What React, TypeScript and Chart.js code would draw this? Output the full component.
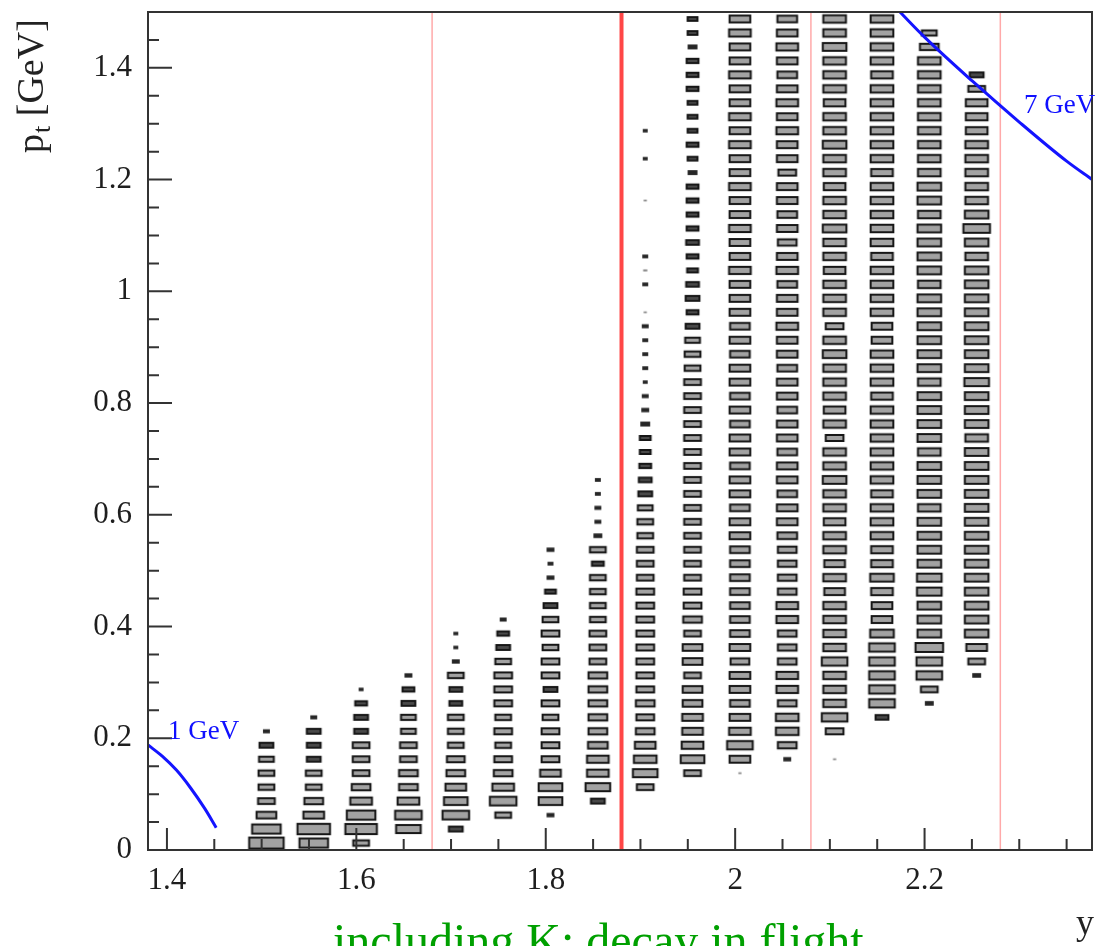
import React, { useEffect, useRef } from 'react';
import { Chart, registerables } from 'chart.js';

Chart.register(...registerables);

// ---- binning ----
const X_BIN = 0.05;
const Y_BIN = 0.025;
const Z_MAX = 48;

// x bin centres (rapidity y)
const xBinCenters = [1.505, 1.555, 1.605, 1.655, 1.705, 1.755, 1.805, 1.855, 1.905, 1.955, 2.005, 2.055, 2.105, 2.155, 2.205, 2.255];
// index of the first filled pt bin in each column
const firstYBin = [0, 0, 0, 1, 1, 2, 2, 3, 4, 5, 5, 6, 6, 9, 10, 12];

// bin contents per column, from the first filled pt bin upward
const c150 = [36, 30, 21, 18, 17, 17, 16, 15, 7];
const c155 = [30, 34, 22, 20, 17, 17, 15, 15, 15, 7];
const c160 = [17, 33, 30, 23, 20, 18, 18, 18, 15, 15, 13, 5];
const c165 = [26, 28, 23, 20, 20, 18, 18, 16, 16, 15, 13, 8];
const c170 = [15, 28, 25, 22, 20, 19, 17, 17, 17, 14, 14, 17, 8, 5, 5];
const c175 = [17, 28, 23, 20, 19, 17, 19, 17, 19, 19, 19, 17, 15, 13, 7];
const c180 = [8, 25, 25, 22, 19, 19, 19, 17, 19, 15, 19, 19, 17, 19, 17, 15, 12, 8, 6, 8];
const c185 = [15, 26, 23, 23, 21, 20, 20, 20, 20, 20, 18, 18, 18, 17, 17, 17, 17, 13, 17, 9, 7, 7, 6, 6];
const c190 = [18, 26, 24, 22, 20, 19, 20, 19, 19, 19, 19, 19, 19, 19, 19, 18, 18, 18, 17, 17, 16, 15, 14, 13, 12, 12, 10, 8, 7, 5, 6, 6, 6, 7, 2, 0, 6, 3, 6, 0, 0, 0, 2, 0, 0, 5, 0, 5];
const c195 = [18, 25, 23, 22, 22, 21, 21, 18, 21, 21, 18, 20, 19, 19, 18, 18, 18, 18, 18, 18, 18, 18, 18, 18, 18, 18, 18, 18, 18, 17, 17, 16, 15, 13, 15, 14, 12, 13, 14, 13, 13, 13, 13, 10, 11, 13, 11, 11, 11, 13, 13, 13, 10, 11, 11];
const c200 = [2, 22, 27, 23, 22, 21, 22, 22, 20, 22, 21, 21, 21, 21, 21, 21, 21, 22, 22, 21, 22, 22, 21, 22, 22, 21, 22, 21, 22, 22, 21, 22, 21, 22, 22, 22, 23, 22, 22, 23, 22, 22, 23, 22, 22, 23, 22, 23, 22, 22, 23, 22, 22, 23, 22];
const c205 = [8, 20, 24, 24, 20, 23, 23, 20, 20, 20, 23, 23, 20, 20, 20, 20, 21, 22, 22, 21, 22, 22, 21, 22, 22, 21, 22, 22, 21, 22, 22, 23, 22, 22, 21, 23, 22, 20, 22, 21, 22, 22, 19, 22, 22, 23, 22, 23, 22, 21, 22, 23, 22, 21];
const c210 = [2, 0, 19, 27, 24, 24, 24, 27, 24, 24, 24, 24, 22, 24, 22, 24, 24, 23, 24, 24, 25, 24, 24, 19, 24, 23, 24, 24, 24, 25, 24, 19, 24, 24, 24, 23, 24, 24, 25, 24, 24, 23, 24, 24, 25, 24, 24, 23, 24, 24, 24, 25, 24, 24];
const c215 = [14, 27, 27, 27, 27, 27, 25, 22, 22, 23, 25, 23, 23, 24, 24, 24, 23, 24, 24, 24, 24, 24, 24, 23, 24, 24, 24, 22, 22, 24, 24, 24, 24, 23, 24, 24, 24, 24, 24, 23, 24, 24, 24, 24, 24, 24, 23, 24, 24, 24, 24];
const c220 = [9, 18, 27, 27, 29, 25, 25, 25, 26, 26, 25, 25, 25, 25, 24, 25, 25, 25, 24, 25, 25, 25, 25, 24, 25, 25, 25, 25, 25, 25, 24, 25, 25, 25, 25, 24, 25, 25, 24, 24, 24, 24, 24, 24, 24, 24, 24, 20, 16];
const c225 = [9, 18, 22, 25, 25, 25, 25, 25, 25, 25, 25, 25, 25, 25, 25, 25, 25, 24, 25, 25, 25, 26, 25, 25, 25, 25, 25, 25, 25, 25, 24, 25, 28, 25, 24, 24, 24, 24, 24, 23, 23, 23, 18, 15];

const columnCounts = [c150, c155, c160, c165, c170, c175, c180, c185, c190, c195, c200, c205, c210, c215, c220, c225];

// axis ticks
const xTickValues = [1.4, 1.6, 1.8, 2.0, 2.2];
const xTickLabels = ['1.4', '1.6', '1.8', '2', '2.2'];
const yTickValues = [0, 0.2, 0.4, 0.6, 0.8, 1.0, 1.2, 1.4];
const yTickLabels = ['0', '0.2', '0.4', '0.6', '0.8', '1', '1.2', '1.4'];

// vertical cut lines (rapidity)
const cutLines = [1.68, 1.88, 2.08, 2.28];

// constant-momentum curves
const curve1GeVY = [1.38, 1.395, 1.41, 1.425, 1.44, 1.452];
const curve1GeVPt = [0.188, 0.168, 0.143, 0.111, 0.074, 0.04];
const curve7GeVY = [2.174, 2.2, 2.25, 2.3, 2.35, 2.377];
const curve7GeVPt = [1.5, 1.455, 1.377, 1.303, 1.233, 1.2];

const boxCache = new Map<string, HTMLCanvasElement>();
function boxImage(w: number, h: number): HTMLCanvasElement {
  const key = w.toFixed(1) + 'x' + h.toFixed(1);
  const hit = boxCache.get(key);
  if (hit) return hit;
  const c = document.createElement('canvas');
  const pad = 3;
  c.width = Math.max(2, Math.ceil(w + pad * 2));
  c.height = Math.max(2, Math.ceil(h + pad * 2));
  const g = c.getContext('2d')!;
  const cx = c.width / 2;
  const cy = c.height / 2;
  if (w < 4) {
    g.fillStyle = '#8a8a8a';
    g.fillRect(cx - w / 2 - 0.6, cy - h / 2 - 0.6, w + 1.2, h + 1.2);
  } else if (w < 10) {
    const hh = h + 2;
    g.fillStyle = '#262626';
    g.fillRect(cx - w / 2, cy - hh / 2, w, hh);
  } else {
    // stroke path: outer extent is about w+1 by h+2.5
    const pw = w - 1;
    const ph = h + 0.5;
    g.fillStyle = w < 15 ? '#4a4a4a' : '#a2a2a2';
    g.fillRect(cx - pw / 2, cy - ph / 2, pw, ph);
    g.strokeStyle = '#161616';
    g.lineWidth = 2;
    g.strokeRect(cx - pw / 2, cy - ph / 2, pw, ph);
  }
  boxCache.set(key, c);
  return c;
}

const decorPlugin = {
  id: 'decor',
  afterDraw(chart: any) {
    const { ctx, chartArea: a, scales } = chart;
    const xs = scales.x;
    const ys = scales.y;
    ctx.save();
    // frame
    ctx.strokeStyle = '#333333';
    ctx.lineWidth = 2;
    ctx.strokeRect(a.left, a.top, a.right - a.left, a.bottom - a.top);
    // inward tick marks
    ctx.beginPath();
    for (let i = 0; i < 40; i++) {
      const v = 1.4 + i * 0.05;
      if (v > xs.max) break;
      const px = xs.getPixelForValue(v);
      const len = i % 4 === 0 ? 22 : 11;
      ctx.moveTo(px, a.bottom);
      ctx.lineTo(px, a.bottom - len);
    }
    for (let i = 0; i < 30; i++) {
      const v = i * 0.05;
      if (v >= ys.max - 1e-9) break;
      const py = ys.getPixelForValue(v);
      const len = i % 4 === 0 ? 24 : 11;
      ctx.moveTo(a.left, py);
      ctx.lineTo(a.left + len, py);
    }
    ctx.stroke();

    // curve labels
    ctx.fillStyle = '#1010ff';
    ctx.font = '27px "Liberation Serif"';
    ctx.textBaseline = 'alphabetic';
    ctx.textAlign = 'left';
    ctx.fillText('1 GeV', 168, 739);
    ctx.fillText('7 GeV', 1024, 113);

    // y axis title, rotated
    ctx.save();
    ctx.fillStyle = '#222222';
    ctx.translate(43, 153);
    ctx.rotate(-Math.PI / 2);
    ctx.font = '38px "Liberation Serif"';
    ctx.fillText('p', 0, 0);
    let off = ctx.measureText('p').width;
    ctx.font = '26px "Liberation Serif"';
    ctx.fillText('t', off + 1, 7);
    off += ctx.measureText('t').width + 1;
    ctx.font = '38px "Liberation Serif"';
    ctx.fillText(' [GeV]', off, 0);
    ctx.restore();

    // x axis title
    ctx.fillStyle = '#222222';
    ctx.font = '36px "Liberation Serif"';
    ctx.fillText('y', 1076, 934);

    // caption
    ctx.fillStyle = '#00a000';
    ctx.font = '48px "Liberation Serif"';
    ctx.fillText('including K: decay in flight', 333, 957);
    ctx.restore();
  },
};

function buildConfig(): any {
  const boxPoints: { x: number; y: number; v: number }[] = [];
  columnCounts.forEach((col, ci) => {
    col.forEach((v, j) => {
      if (v > 0) boxPoints.push({ x: xBinCenters[ci], y: (firstYBin[ci] + j + 0.5) * Y_BIN, v });
    });
  });

  const lineSets = cutLines.map((xv, i) => ({
    label: 'cut ' + xv,
    data: [
      { x: xv, y: 0 },
      { x: xv, y: 1.5 },
    ],
    showLine: true,
    borderColor: i === 1 ? 'rgba(255,60,60,0.95)' : 'rgba(255,160,160,0.9)',
    borderWidth: i === 1 ? 4 : 1.5,
    pointRadius: 0,
    order: 3,
  }));

  const curve = (xsArr: number[], ptArr: number[], label: string) => ({
    label,
    data: xsArr.map((xv, i) => ({ x: xv, y: ptArr[i] })),
    showLine: true,
    borderColor: '#1414ff',
    borderWidth: 3,
    pointRadius: 0,
    cubicInterpolationMode: 'monotone',
    order: 0,
  });

  return {
    type: 'scatter',
    data: {
      datasets: [
        curve(curve1GeVY, curve1GeVPt, '1 GeV'),
        curve(curve7GeVY, curve7GeVPt, '7 GeV'),
        {
          label: 'counts',
          data: boxPoints,
          order: 1,
          pointRadius: 1,
          pointBorderWidth: 0,
          pointStyle: (ctx: any) => {
            const raw = ctx.raw;
            if (!raw) return 'rect';
            const xs = ctx.chart.scales.x;
            const ys = ctx.chart.scales.y;
            const f = raw.v / Z_MAX;
            const w = Math.abs(xs.getPixelForValue(raw.x + (f * X_BIN) / 2) - xs.getPixelForValue(raw.x - (f * X_BIN) / 2));
            const h = Math.abs(ys.getPixelForValue(raw.y + (f * Y_BIN) / 2) - ys.getPixelForValue(raw.y - (f * Y_BIN) / 2));
            if (!isFinite(w) || !isFinite(h)) return 'rect';
            return boxImage(w, h);
          },
        },
        ...lineSets,
      ],
    },
    options: {
      animation: false,
      responsive: false,
      devicePixelRatio: 1,
      events: [],
      layout: { padding: { left: 0, top: 12, right: 1, bottom: 0 } },
      plugins: { legend: { display: false }, tooltip: { enabled: false } },
      scales: {
        x: {
          type: 'linear',
          position: 'bottom',
          min: 1.38,
          max: 2.3768,
          grid: { display: false, drawTicks: false },
          border: { display: false },
          afterBuildTicks: (scale: any) => {
            scale.ticks = xTickValues.map((v) => ({ value: v }));
          },
          afterFit: (scale: any) => {
            scale.height = 96;
            scale.paddingLeft = 0;
            scale.paddingRight = 0;
          },
          ticks: {
            autoSkip: false,
            maxRotation: 0,
            minRotation: 0,
            padding: 12,
            color: '#1e1e1e',
            font: { family: 'Liberation Serif', size: 31 },
            callback: (_v: any, i: number) => xTickLabels[i],
          },
        },
        y: {
          type: 'linear',
          position: 'left',
          min: 0,
          max: 1.5,
          grid: { display: false, drawTicks: false },
          border: { display: false },
          afterBuildTicks: (scale: any) => {
            scale.ticks = yTickValues.map((v) => ({ value: v }));
          },
          afterFit: (scale: any) => {
            scale.width = 148;
            scale.paddingTop = 0;
            scale.paddingBottom = 0;
          },
          ticks: {
            autoSkip: false,
            padding: 16,
            color: '#1e1e1e',
            font: { family: 'Liberation Serif', size: 31 },
            callback: (_v: any, i: number) => yTickLabels[i],
          },
        },
      },
    },
    plugins: [decorPlugin],
  };
}

export default function App() {
  const ref = useRef<HTMLCanvasElement>(null);
  useEffect(() => {
    const canvas = ref.current;
    if (!canvas) return;
    const chart = new Chart(canvas, buildConfig());
    return () => chart.destroy();
  }, []);
  return (
    <div style={{ position: 'absolute', left: 0, top: 0, width: 1096, height: 946, background: '#ffffff', overflow: 'hidden' }}>
      <canvas ref={ref} width={1096} height={946} style={{ display: 'block', width: 1096, height: 946 }} />
    </div>
  );
}
